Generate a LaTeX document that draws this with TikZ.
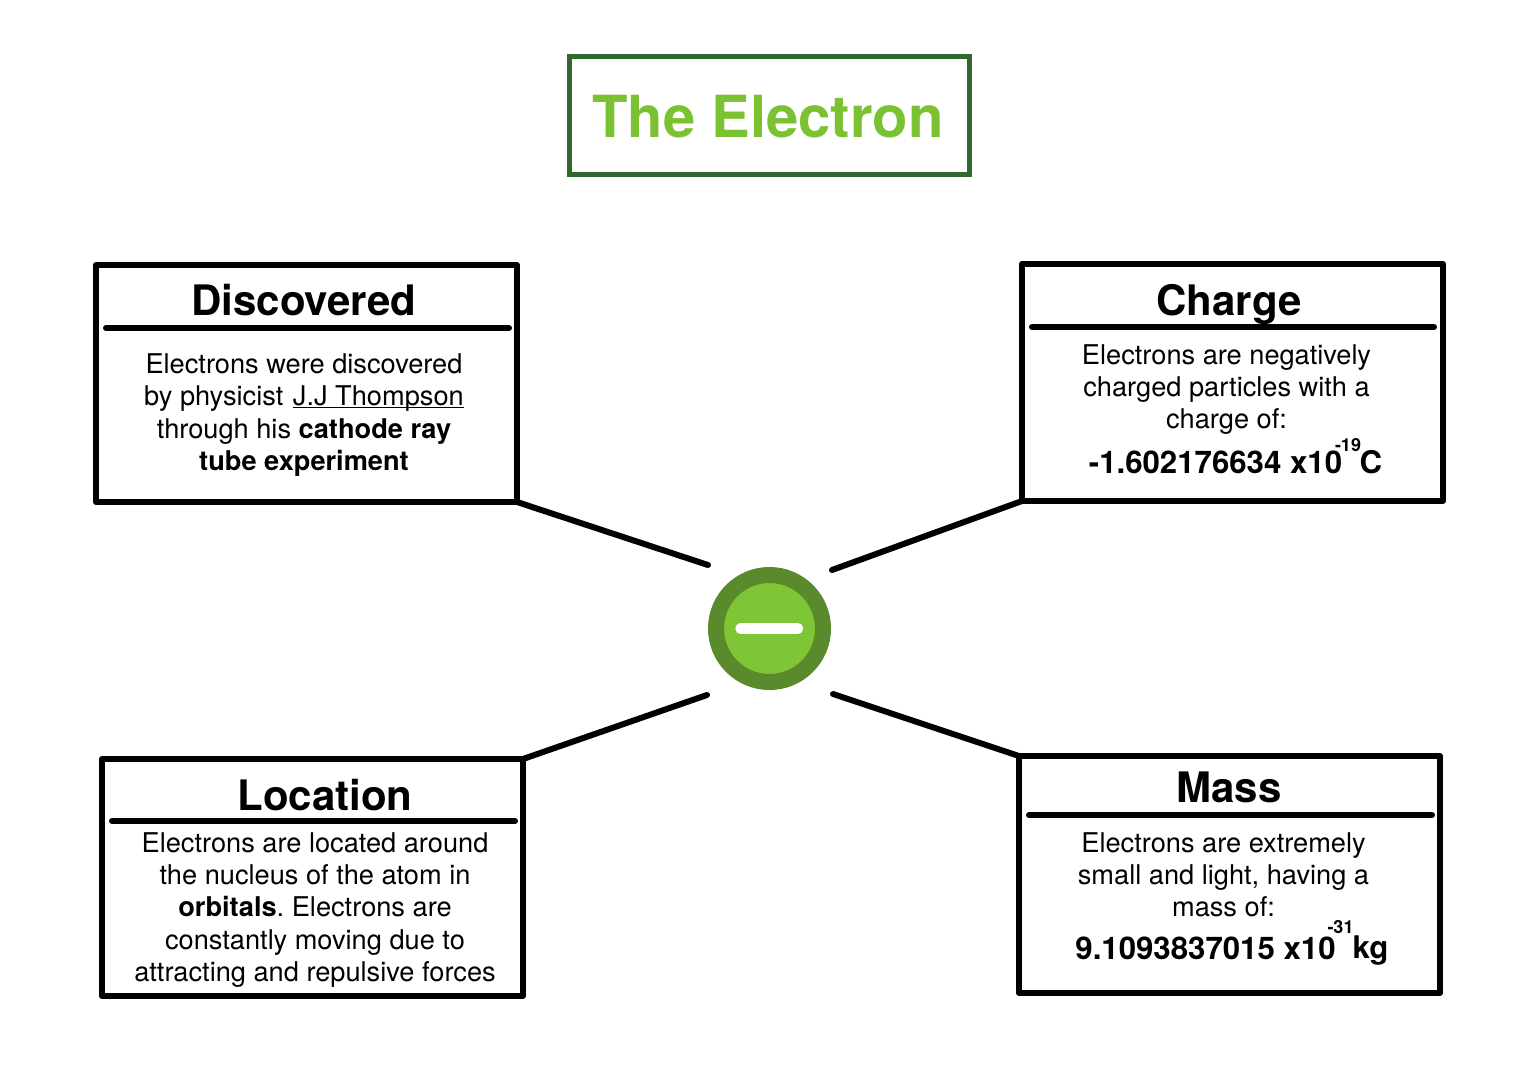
\documentclass[tikz,border=0pt]{standalone}
\usepackage{fontspec}
\setmainfont{TeX Gyre Heros}
\definecolor{titlegreen}{HTML}{7AC231}
\definecolor{framegreen}{HTML}{31682F}
\definecolor{ringgreen}{HTML}{5A8A2B}
\definecolor{coregreen}{HTML}{7FC636}
\frenchspacing
\newcommand{\myul}[1]{\setbox0\hbox{#1}\rlap{\rule[-1.3pt]{\wd0}{0.55pt}}\box0}
\tikzset{
  boxframe/.style={draw=black,line width=3pt,line join=round,outer sep=0pt,inner sep=0pt},
  rule/.style={draw=black,line width=3pt,line cap=round},
  spoke/.style={draw=black,line width=3pt,line cap=round},
  head/.style={inner sep=0pt,font=\fontsize{21}{24}\selectfont\bfseries,anchor=center},
  body/.style={inner sep=0pt,font=\fontsize{13.6}{16.2}\selectfont,align=center,anchor=center},
  big/.style={inner sep=0pt,font=\fontsize{15.6}{18}\selectfont\bfseries,anchor=center},
  supnum/.style={inner sep=0pt,font=\fontsize{9}{10}\selectfont\bfseries,anchor=center},
}
\begin{document}
\begin{tikzpicture}[x=0.5pt,y=-0.5pt]
\useasboundingbox (0,0) rectangle (1528,1076);
\fill[white] (0,0) rectangle (1528,1076);
% title
\node[draw=framegreen,line width=2.8pt,minimum width=200pt,minimum height=59pt,inner sep=0pt,outer sep=0pt] (title) at (769.5,115.5) {};
\node[inner sep=0pt,text=titlegreen,font=\fontsize{29}{32}\selectfont\bfseries] (titletext) at (768,117) {The Electron};
% boxes
\node[boxframe,minimum width=210.5pt,minimum height=118.5pt] (disc) at (306.5,383.5) {};
\node[boxframe,minimum width=210.5pt,minimum height=118.5pt] (charge) at (1232.5,382.5) {};
\node[boxframe,minimum width=210.5pt,minimum height=118.5pt] (loc) at (312.5,877.5) {};
\node[boxframe,minimum width=210.5pt,minimum height=118.5pt] (mass) at (1229.5,874.5) {};
% rules
\coordinate (r1a) at (106,328); \coordinate (r1b) at (509,328);
\coordinate (r2a) at (1032,327); \coordinate (r2b) at (1434,327);
\coordinate (r3a) at (112,821); \coordinate (r3b) at (515,821);
\coordinate (r4a) at (1029,815); \coordinate (r4b) at (1432,815);
\draw[rule] (r1a) -- (r1b);
\draw[rule] (r2a) -- (r2b);
\draw[rule] (r3a) -- (r3b);
\draw[rule] (r4a) -- (r4b);
% headings
\node[head] (h1) at (304,300) {Discovered};
\node[head] (h2) at (1229,305) {Charge};
\node[head] (h3) at (325,795) {Location};
\node[head] (h4) at (1229,787) {Mass};
% texts
\node[body] (t1) at (304,415) {Electrons were discovered\\by physicist\hspace{1pt} \myul{J.J Thompson}\\through his \textbf{cathode ray}\\\textbf{tube experiment}};
\node[body,font=\fontsize{13.6}{15.8}\selectfont] (t2) at (1226.5,389.5) {Electrons are negatively\\charged particles with a\\charge of:};
\node[big] (v2) at (1215.5,462) {-1.602176634 x10};
\node[supnum] (s2) at (1348,445) {-19};
\node[big] (u2) at (1371,462) {C};
\node[body] (t3) at (315,910) {Electrons are located around\\the nucleus of the atom in\\\textbf{orbitals}. Electrons are\\constantly moving due to\\attracting and repulsive forces};
\node[body,font=\fontsize{13.6}{16}\selectfont] (t4) at (1223.5,875) {Electrons are extremely\\small and light, having a\\mass of:};
\node[big] (v4) at (1205.5,948) {9.1093837015 x10};
\node[supnum] (s4) at (1340.5,927) {-31};
\node[big] (u4) at (1370.5,951) {kg};
% electron
\node[circle,fill=coregreen,draw=ringgreen,line width=8pt,minimum size=53.5pt,inner sep=0pt] (e) at (769.5,628.5) {};
\coordinate (m1) at (740.5,628.5); \coordinate (m2) at (798,628.5);
\draw[white,line width=5.25pt,line cap=round] (m1) -- (m2);
% spokes
\coordinate (e1) at (708,565); \coordinate (e2) at (832,570);
\coordinate (e3) at (707,695); \coordinate (e4) at (833,694);
\draw[spoke] (disc.south east) -- (e1);
\draw[spoke] (charge.south west) -- (e2);
\draw[spoke] (loc.north east) -- (e3);
\draw[spoke] (mass.north west) -- (e4);
\end{tikzpicture}
\end{document}
